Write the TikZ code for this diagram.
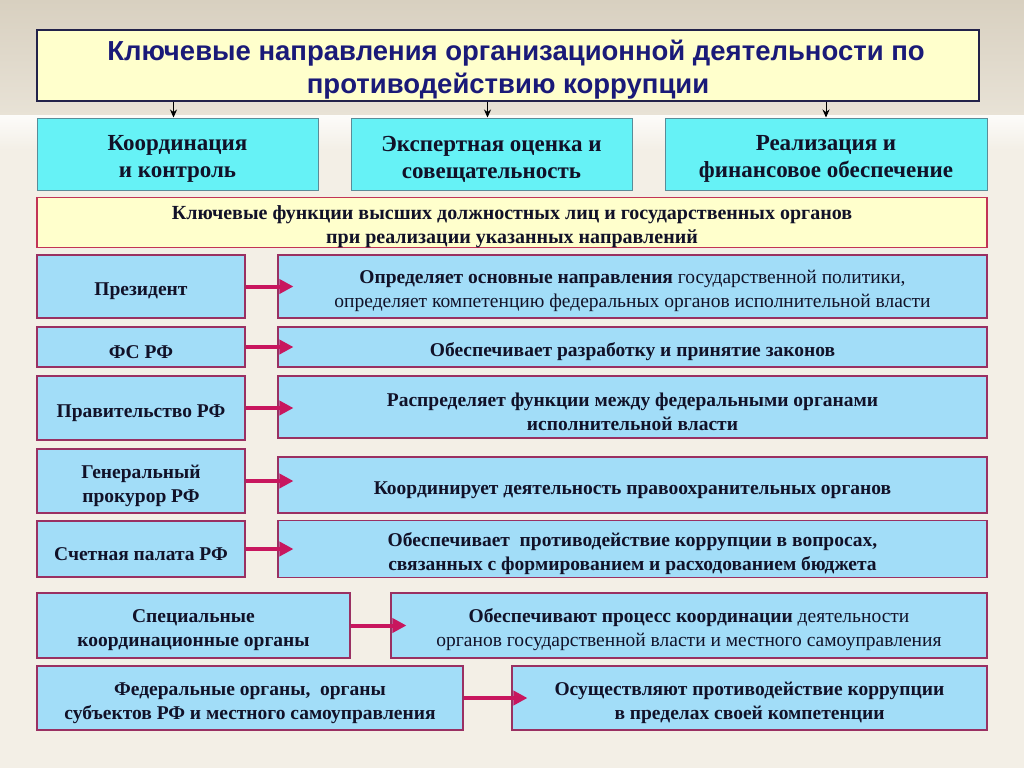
\documentclass[tikz,border=0pt]{standalone}
\usepackage{fontspec}
\setmainfont{Liberation Serif}
\newfontfamily\titlefont{Liberation Sans}
\newfontfamily\narrowserif{Liberation Serif}
\usetikzlibrary{arrows.meta}
\newcommand\liftby[1]{\rule{0pt}{#1}}
\newcommand\rl{\liftby{22.5pt}}
\definecolor{bgtop}{HTML}{D8D0C0}
\definecolor{bgmid}{HTML}{E8E2D6}
\definecolor{bglow}{HTML}{F3EFE6}
\definecolor{titlefill}{HTML}{FFFFCC}
\definecolor{titleborder}{HTML}{22224A}
\definecolor{titletext}{HTML}{1A1A78}
\definecolor{cyanfill}{HTML}{66F2F6}
\definecolor{cyanborder}{HTML}{5A8C98}
\definecolor{rowfill}{HTML}{A2DDF8}
\definecolor{rowborder}{HTML}{9A3062}
\definecolor{yelborder}{HTML}{C23456}
\definecolor{textdark}{HTML}{111128}
\definecolor{arrowred}{HTML}{C8165E}
\tikzset{
  titlebox/.style={draw=titleborder, line width=1.2pt, fill=titlefill, align=center,
    text=titletext, font=\titlefont\bfseries\fontsize{27.5}{33}\selectfont, inner sep=0pt},
  cyanbox/.style={draw=cyanborder, line width=1pt, fill=cyanfill, align=center,
    text=textdark, font=\narrowserif\bfseries\fontsize{23}{27}\selectfont, inner sep=0pt},
  yelbox/.style={draw=yelborder, line width=1.2pt, fill=titlefill, align=center,
    text=textdark, font=\narrowserif\bfseries\fontsize{20}{24}\selectfont, inner sep=0pt},
  rowbox/.style={draw=rowborder, line width=1.1pt, fill=rowfill, align=center,
    text=textdark, font=\bfseries\fontsize{19.5}{24}\selectfont, inner sep=0pt},
  downarrow/.style={draw=black, line width=0.8pt, -{Stealth[length=8pt,width=7pt]}},
  redarrow/.style={draw=arrowred, line width=4pt, -{Triangle[length=14pt,width=14pt]}}
}
\begin{document}
\begin{tikzpicture}[x=1pt,y=-1pt]
\useasboundingbox (0,0) rectangle (1024,768);
% background
\fill[bglow] (0,0) rectangle (1024,768);
\shade[top color=bgtop, bottom color=bgmid] (0,0) rectangle (1024,115);
\shade[top color=white!80!bglow, bottom color=bglow] (0,115) rectangle (1024,150);
% title
\node[titlebox, minimum width=942pt, minimum height=71pt] (title) at (508,65.5)
  {\hspace*{16pt}\liftby{29pt}Ключевые направления организационной деятельности по\\противодействию коррупции};
% directions
\node[cyanbox, minimum width=281pt, minimum height=72pt] (c1) at (177.5,154)
  {\liftby{25.5pt}Координация\\и контроль};
\node[cyanbox, minimum width=281pt, minimum height=72pt] (c2) at (491.5,154)
  {\liftby{25.5pt}Экспертная оценка и\\совещательность};
\node[cyanbox, minimum width=322pt, minimum height=72pt] (c3) at (826,154)
  {\liftby{25.5pt}Реализация и\\финансовое обеспечение};
\draw[downarrow] ([xshift=-4pt]c1.north |- title.south) -- ([xshift=-4pt]c1.north);
\draw[downarrow] ([xshift=-4pt]c2.north |- title.south) -- ([xshift=-4pt]c2.north);
\draw[downarrow] (c3.north |- title.south) -- (c3.north);
% key functions
\node[yelbox, minimum width=950pt, minimum height=47pt] (kf) at (512,222.5)
  {\liftby{22pt}Ключевые функции высших должностных лиц и государственных органов\\при реализации указанных направлений};
% rows
\node[rowbox, minimum width=208pt, minimum height=63pt] (r1) at (141,286.5) {\rl Президент};
\node[rowbox, minimum width=709pt, minimum height=63pt] (d1) at (632.5,286.5)
  {\rl Определяет основные направления {\mdseries государственной политики,}\\
   \mdseries определяет компетенцию федеральных органов исполнительной власти};
\node[rowbox, minimum width=208pt, minimum height=40pt] (r2) at (141,347) {\rl ФС РФ};
\node[rowbox, minimum width=709pt, minimum height=40pt] (d2) at (632.5,347)
  {\rl Обеспечивает разработку и принятие законов};
\node[rowbox, minimum width=208pt, minimum height=64pt] (r3) at (141,408) {\rl Правительство РФ};
\node[rowbox, minimum width=709pt, minimum height=62pt] (d3) at (632.5,407)
  {\rl Распределяет функции между федеральными органами\\исполнительной власти};
\node[rowbox, minimum width=208pt, minimum height=64pt] (r4) at (141,481) {\rl Генеральный\\прокурор РФ};
\node[rowbox, minimum width=709pt, minimum height=56pt] (d4) at (632.5,485)
  {\rl Координирует деятельность правоохранительных органов};
\node[rowbox, minimum width=208pt, minimum height=56pt] (r5) at (141,549) {\rl Счетная палата РФ};
\node[rowbox, minimum width=709pt, minimum height=57pt] (d5) at (632.5,549)
  {\rl Обеспечивает\ \ противодействие коррупции в вопросах,\\связанных с формированием и расходованием бюджета};
\node[rowbox, minimum width=313pt, minimum height=65pt] (r6) at (193.5,625.5)
  {\rl Специальные\\координационные органы};
\node[rowbox, minimum width=596pt, minimum height=65pt] (d6) at (689,625.5)
  {\rl Обеспечивают процесс координации {\mdseries деятельности}\\
   \mdseries органов государственной власти и местного самоуправления};
\node[rowbox, minimum width=426pt, minimum height=64pt] (r7) at (250,698)
  {\rl Федеральные органы,\ \ органы\\субъектов РФ и местного самоуправления};
\node[rowbox, minimum width=475pt, minimum height=64pt] (d7) at (749.5,698)
  {\rl Осуществляют противодействие коррупции\\в пределах своей компетенции};
% red arrows
\foreach \a/\b in {r1/d1,r2/d2,r3/d3,r4/d4,r5/d5,r6/d6,r7/d7}{
  \draw[redarrow] (\a.east) -- ([xshift=16pt]\b.west |- \a.east);
}
\end{tikzpicture}
\end{document}
